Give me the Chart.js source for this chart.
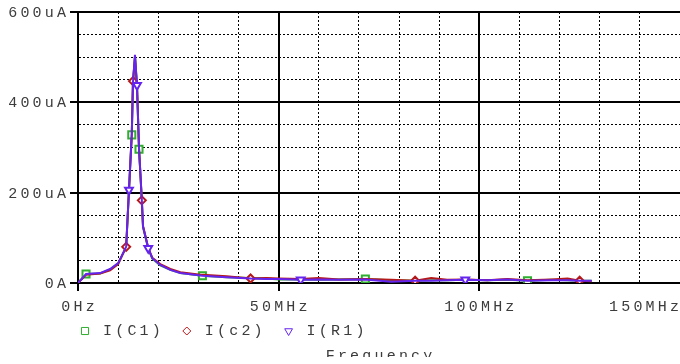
<!DOCTYPE html>
<html>
<head>
<meta charset="utf-8">
<title>Frequency</title>
<script src="https://cdn.jsdelivr.net/npm/chart.js@4.4.0/dist/chart.umd.min.js"></script>
<style>
    html, body { margin: 0; padding: 0; background: #fff; overflow: hidden; }
    #wrap { width: 680px; height: 364px; }
</style>
</head>
<body>
<div id="wrap"><canvas id="chart" width="680" height="364"></canvas></div>
<script>
// Frequency points (MHz)
const freq = [0, 2, 5.5, 8, 10, 12, 12.7, 13.4, 13.7, 14.2, 14.7, 15.2, 15.9, 16.2, 17.5, 18.5, 20.5, 23, 25.5, 31,
    37, 43, 47, 50, 55.5, 60, 65, 71.6, 78, 84, 88, 92, 96.5, 102, 107, 112, 118, 122, 125, 128];

// Currents (uA)
const iC1 = [0, 20, 21, 30, 43, 79, 204, 328, 443, 502, 436, 296, 183, 124, 76, 54, 39, 29, 22, 16,
    13, 11, 10, 8, 8, 7, 8, 9, 6, 5, 6, 6, 7, 6, 7, 5, 7, 6, 5, 5];
const iC2 = [0, 18, 21, 28, 42, 80, 205, 330, 447, 500, 435, 298, 183, 126, 78, 56, 42, 31, 24, 18,
    15, 10, 11, 10, 9, 11, 8, 9, 7, 5, 11, 7, 8, 6, 9, 6, 8, 10, 5, 4];
const iR1 = [0, 20, 22, 31, 44, 80, 206, 330, 445, 505, 438, 300, 185, 125, 77, 55, 40, 29, 22, 16,
    13, 10, 9, 9, 7, 8, 7, 8, 3, 5, 5, 6, 7, 6, 8, 5, 6, 6, 5, 5];

// Where each trace carries a marker (MHz)
const markC1 = [2, 13.4, 15.2, 31, 71.6, 112];
const markC2 = [12, 13.7, 15.9, 43, 84, 125];
const markR1 = [12.7, 14.7, 17.5, 55.5, 96.5];

// Tick labels
const xTicks = [0, 50, 100, 150];
const xTickLabels = ['0Hz', '50MHz', '100MHz', '150MHz'];
const yTicks = [0, 200, 400, 600];
const yTickLabels = ['0A', '200uA', '400uA', '600uA'];

const seriesNames = ['I(C1)', 'I(c2)', 'I(R1)'];
const axisTitle = 'Frequency';

const toPoints = (values) => freq.map((f, i) => ({ x: f, y: values[i] }));
const markerRadius = (marks, r) => (c) => marks.includes(freq[c.dataIndex]) ? r : 0;

const isMajorX = (c) => c.tick && c.tick.value % 50 === 0;
const isMajorY = (c) => c.tick && c.tick.value % 200 === 0;

// Draws tick labels, legend and axis title in PSpice style (spaced mono text)
const textPlugin = {
    id: 'pspiceText',
    afterDraw(chart) {
        const ctx = chart.ctx;
        const xs = chart.scales.x;
        const ys = chart.scales.y;
        const area = chart.chartArea;
        const spacing = 3.2;
        ctx.save();
        ctx.font = '15px "Liberation Mono", monospace';
        ctx.letterSpacing = spacing + 'px';
        ctx.fillStyle = '#3c3c3c';
        ctx.textBaseline = 'middle';
        ctx.textAlign = 'left';
        const textW = (t) => ctx.measureText(t).width - spacing;

        // y labels, right edge a bit left of tick marks
        yTicks.forEach((v, i) => {
            const t = yTickLabels[i];
            ctx.fillText(t, area.left - 12 - textW(t), ys.getPixelForValue(v) + 1);
        });

        // x labels, centred but kept inside the canvas
        xTicks.forEach((v, i) => {
            const t = xTickLabels[i];
            let left = xs.getPixelForValue(v) - textW(t) / 2;
            left = Math.min(left, chart.width - textW(t) - 1);
            ctx.fillText(t, left, area.bottom + 24);
        });

        // legend
        let x = area.left + 7;
        const ly = area.bottom + 48;
        chart.data.datasets.forEach((ds, i) => {
            ctx.save();
            ctx.letterSpacing = '0px';
            ctx.strokeStyle = ds.borderColor;
            ctx.fillStyle = '#fff';
            Chart.helpers.drawPoint(ctx, {
                pointStyle: ds.pointStyle,
                rotation: ds.rotation || 0,
                radius: ds.legendRadius,
                borderWidth: 2
            }, x, ly);
            ctx.restore();
            ctx.fillText(seriesNames[i], x + 18, ly);
            x += 18 + textW(seriesNames[i]) + 26;
        });

        // axis title, cut off at the bottom like the original picture
        const cx = (area.left + area.right) / 2;
        ctx.beginPath();
        ctx.rect(0, 0, chart.width, area.bottom + 74);
        ctx.clip();
        ctx.textBaseline = 'alphabetic';
        ctx.fillText(axisTitle, cx - textW(axisTitle) / 2, area.bottom + 77);
        ctx.restore();
    }
};

const ctx = document.getElementById('chart').getContext('2d');
new Chart(ctx, {
    type: 'line',
    data: {
        datasets: [
            {
                label: seriesNames[0],
                data: toPoints(iC1),
                borderColor: '#2fae2f',
                borderWidth: 2,
                pointStyle: 'rect',
                pointRadius: markerRadius(markC1, 5),
                legendRadius: 5,
                pointBorderWidth: 2,
                pointBackgroundColor: '#fff',
                order: 2
            },
            {
                label: seriesNames[1],
                data: toPoints(iC2),
                borderColor: '#b51818',
                borderWidth: 2,
                pointStyle: 'rectRot',
                pointRadius: markerRadius(markC2, 4),
                legendRadius: 4,
                pointBorderWidth: 2,
                pointBackgroundColor: '#fff',
                order: 1
            },
            {
                label: seriesNames[2],
                data: toPoints(iR1),
                borderColor: '#6424ee',
                borderWidth: 2,
                pointStyle: 'triangle',
                rotation: 180,
                pointRotation: 180,
                pointRadius: markerRadius(markR1, 4.5),
                legendRadius: 4.5,
                pointBorderWidth: 2,
                pointBackgroundColor: '#fff',
                order: 0
            }
        ]
    },
    options: {
        responsive: false,
        animation: false,
        devicePixelRatio: 1,
        layout: { padding: { top: 12, left: 0, right: 0, bottom: 0 } },
        elements: { line: { tension: 0 } },
        plugins: {
            legend: { display: false },
            title: { display: false },
            tooltip: { enabled: false }
        },
        scales: {
            x: {
                type: 'linear',
                min: 0,
                max: 150,
                ticks: { stepSize: 10, display: false },
                grid: {
                    color: (c) => (c.tick && c.tick.value === 150) ? 'rgba(0,0,0,0)' : '#000',
                    lineWidth: (c) => isMajorX(c) ? 2 : 1,
                    tickColor: (c) => (isMajorX(c) && c.tick.value !== 150) ? '#000' : 'rgba(0,0,0,0)',
                    tickLength: 8,
                    tickWidth: 2
                },
                border: {
                    display: true,
                    color: '#000',
                    width: 2,
                    dash: (c) => (c.tick && c.tick.value % 50 !== 0) ? [2, 2] : []
                },
                afterFit: (scale) => { scale.height = 81; }
            },
            y: {
                min: 0,
                max: 600,
                ticks: { stepSize: 50, display: false },
                grid: {
                    color: '#000',
                    lineWidth: (c) => isMajorY(c) ? 2 : 1,
                    tickColor: (c) => isMajorY(c) ? '#000' : 'rgba(0,0,0,0)',
                    tickLength: 8,
                    tickWidth: 2
                },
                border: {
                    display: true,
                    color: '#000',
                    width: 2,
                    dash: (c) => (c.tick && c.tick.value % 200 !== 0) ? [2, 2] : []
                },
                afterFit: (scale) => { scale.width = 78; }
            }
        }
    },
    plugins: [textPlugin]
});
</script>
</body>
</html>
